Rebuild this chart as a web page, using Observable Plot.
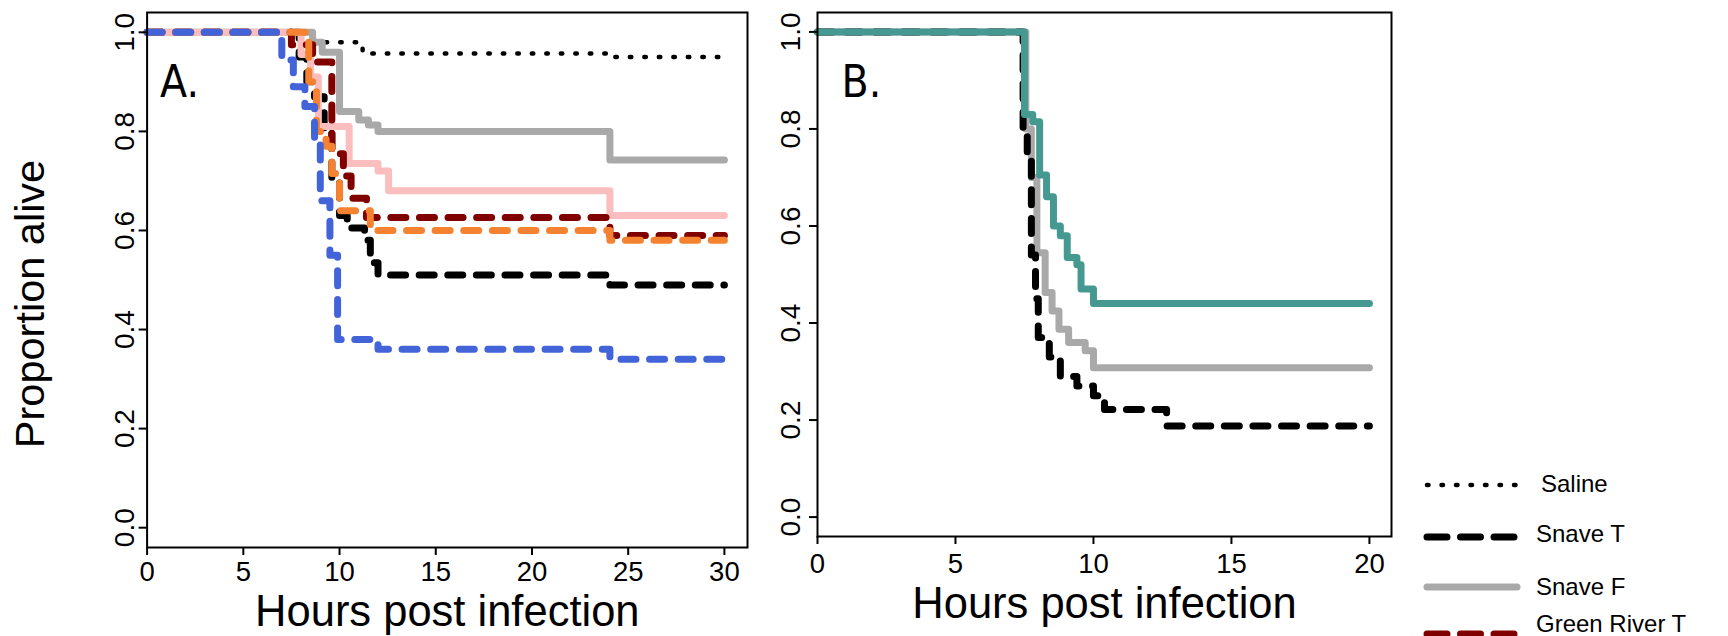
<!DOCTYPE html>
<html><head><meta charset="utf-8">
<script src="https://cdn.jsdelivr.net/npm/d3@7"></script>
<script src="https://cdn.jsdelivr.net/npm/@observablehq/plot@0.6"></script>
<style>
html,body{margin:0;padding:0;background:#fff;width:1728px;height:636px;overflow:hidden;}
#wrap{position:relative;width:1728px;height:636px;font-family:"Liberation Sans",Arial,sans-serif;}
#a{position:absolute;left:0;top:0;}
#b{position:absolute;left:760px;top:0;}
#legend{position:absolute;left:0;top:0;pointer-events:none;}
</style></head>
<body><div id="wrap"><div id="a"></div><div id="b"></div><svg id="legend" width="1728" height="636"></svg></div>
<script>
// ---------- Data ----------
const xTicksA = [0, 5, 10, 15, 20, 25, 30];
const xTicksB = [0, 5, 10, 15, 20];
const yTicks = [0, 0.2, 0.4, 0.6, 0.8, 1.0];

// Panel A
const salineA_t = [0, 8.5, 11.2, 24.05, 30];
const salineA_p = [1, 0.98, 0.957, 0.95, 0.95];
const snaveTA_t = [0, 7.9, 8.3, 8.7, 9.2, 9.6, 10.0, 10.4, 11.3, 11.6, 12.0, 24.05, 30];
const snaveTA_p = [1, 0.95, 0.90, 0.87, 0.80, 0.70, 0.63, 0.605, 0.58, 0.535, 0.51, 0.49, 0.49];
const snaveFA_t = [0, 8.6, 9.1, 10.0, 11.0, 11.5, 12.0, 24.05, 30];
const snaveFA_p = [1, 0.98, 0.96, 0.84, 0.823, 0.813, 0.80, 0.742, 0.742];
const pinkA_t = [0, 8.0, 8.5, 8.9, 10.5, 12.0, 12.55, 24.05, 30];
const pinkA_p = [1, 0.955, 0.91, 0.81, 0.735, 0.72, 0.68, 0.63, 0.63];
const greenRiverTA_t = [0, 7.5, 8.6, 9.6, 10.2, 10.6, 11.4, 24.05, 30];
const greenRiverTA_p = [1, 0.975, 0.94, 0.755, 0.71, 0.665, 0.626, 0.59, 0.59];
const orangeA_t = [0, 8.4, 8.8, 9.3, 9.6, 10.0, 11.6, 24.05, 30];
const orangeA_p = [1, 0.90, 0.80, 0.77, 0.715, 0.64, 0.60, 0.58, 0.58];
const blueA_t = [0, 7.0, 7.6, 8.2, 8.7, 9.0, 9.5, 9.9, 12.0, 24.05, 30];
const blueA_p = [1, 0.944, 0.89, 0.85, 0.78, 0.66, 0.55, 0.38, 0.36, 0.34, 0.34];

// Panel B
const snaveFB_t = [0, 7.55, 7.75, 7.95, 8.25, 8.5, 8.75, 9.1, 9.7, 10.0, 20];
const snaveFB_p = [1, 0.80, 0.70, 0.545, 0.463, 0.425, 0.387, 0.36, 0.343, 0.308, 0.308];
const snaveTB_t = [0, 7.45, 7.6, 7.75, 7.9, 8.0, 8.4, 8.8, 9.4, 10.0, 10.4, 12.65, 20];
const snaveTB_p = [1, 0.80, 0.74, 0.54, 0.45, 0.37, 0.33, 0.29, 0.27, 0.25, 0.222, 0.188, 0.188];
const tealB_t = [0, 7.5, 7.8, 8.05, 8.3, 8.55, 8.8, 9.05, 9.4, 9.55, 10.0, 20];
const tealB_p = [1, 0.83, 0.815, 0.705, 0.66, 0.60, 0.58, 0.535, 0.52, 0.47, 0.44, 0.44];

const legendNames = ["Saline", "Snave T", "Snave F", "Green River T"];

// ---------- Styles ----------
const DOT = {stroke: "black", strokeWidth: 4.5, dash: "1.5,13"};
const BLACKDASH = {stroke: "black", strokeWidth: 7, dash: "15,13.6"};
const GRAY = {stroke: "#a9a9a9", strokeWidth: 7, dash: null};
const PINK = {stroke: "#fabebe", strokeWidth: 7, dash: null};
const MAROON = {stroke: "#800000", strokeWidth: 7, dash: "15,13.6"};
const ORANGE = {stroke: "#f58231", strokeWidth: 7, dash: "15,13.6"};
const BLUE = {stroke: "#4363d8", strokeWidth: 7, dash: "15,13.6"};
const TEAL = {stroke: "#469990", strokeWidth: 7, dash: null};

const seriesA = [
  [salineA_t, salineA_p, DOT],
  [snaveTA_t, snaveTA_p, BLACKDASH],
  [snaveFA_t, snaveFA_p, GRAY],
  [pinkA_t, pinkA_p, PINK],
  [greenRiverTA_t, greenRiverTA_p, MAROON],
  [orangeA_t, orangeA_p, ORANGE],
  [blueA_t, blueA_p, BLUE]
];
const seriesB = [
  [snaveFB_t, snaveFB_p, GRAY],
  [snaveTB_t, snaveTB_p, BLACKDASH],
  [tealB_t, tealB_p, TEAL]
];
const legendStyles = [DOT, BLACKDASH, GRAY, MAROON];

const FONT = "'Liberation Sans', Arial, Helvetica, sans-serif";
const NARROW = "'Liberation Sans Narrow', 'DejaVu Sans Condensed', 'Liberation Sans', sans-serif";

function panel(cfg) {
  const marks = [];
  for (const [t, p, st] of cfg.series) {
    const data = t.map((v, i) => ({t: v, p: p[i]}));
    marks.push(Plot.line(data, {
      x: "t", y: "p", curve: "step-after",
      stroke: st.stroke, strokeWidth: st.strokeWidth,
      strokeDasharray: st.dash || undefined,
      strokeLinecap: "round", strokeLinejoin: "round"
    }));
  }
  marks.push(Plot.frame({stroke: "black", strokeWidth: 2}));
  marks.push(Plot.axisY({ticks: yTicks, tickSize: 8, tickFormat: () => "", label: null, strokeWidth: 2}));
  marks.push(Plot.text(yTicks, {y: d => d, text: d => d3.format(".1f")(d), frameAnchor: "left",
    dx: cfg.yTickDx, rotate: -90, textAnchor: "middle", lineAnchor: "middle", fontSize: 28}));
  marks.push(Plot.axisX({ticks: cfg.xTicks, tickSize: 8, tickPadding: cfg.tickPad, fontSize: 27.5, label: null, strokeWidth: 2}));
  marks.push(Plot.text(["Hours post infection"], {frameAnchor: "bottom", dy: cfg.titleDy, fontSize: cfg.titleSize,
    textAnchor: "middle", lineAnchor: "middle"}));
  if (cfg.yLabel) {
    marks.push(Plot.text([cfg.yLabel], {frameAnchor: "left", dx: cfg.yLabelDx, dy: 24, rotate: -90, fontSize: 41.5,
      textAnchor: "middle", lineAnchor: "middle"}));
  }
  marks.push(Plot.text([cfg.letter], {frameAnchor: "top-left", dx: cfg.letterDx, dy: 70, textAnchor: "start",
    lineAnchor: "middle", fontSize: 44, fontFamily: NARROW}));
  return Plot.plot({
    width: cfg.width, height: 636,
    marginLeft: cfg.marginLeft, marginRight: cfg.marginRight, marginTop: 12, marginBottom: cfg.marginBottom,
    x: {domain: cfg.xDomain},
    y: {domain: [-0.04, 1.04]},
    style: {fontFamily: FONT, background: "white", overflow: "visible", color: "black"},
    marks
  });
}

document.getElementById("a").appendChild(panel({
  series: seriesA, xDomain: [0, 31.2], xTicks: xTicksA, width: 760,
  marginLeft: 146.6, marginRight: 13, marginBottom: 89,
  yTickDx: -22, titleDy: 65, titleSize: 43.5, tickPad: 6, yLabel: "Proportion alive", yLabelDx: -116.6,
  letter: "A.", letterDx: 13
}));
document.getElementById("b").appendChild(panel({
  series: seriesB, xDomain: [0, 20.8], xTicks: xTicksB, width: 650,
  marginLeft: 57, marginRight: 19, marginBottom: 100,
  yTickDx: -26, titleDy: 68, titleSize: 43.5, tickPad: 9, yLabel: null,
  letter: "B.", letterDx: 24
}));

// ---------- Legend ----------
const lg = d3.select("#legend");
const rowY = [485, 537, 587, 634];
const txtY = [484, 534, 587, 624];
legendNames.forEach((name, i) => {
  const st = legendStyles[i];
  lg.append("line").attr("x1", 1427).attr("x2", 1517).attr("y1", rowY[i]).attr("y2", rowY[i])
    .attr("stroke", st.stroke).attr("stroke-width", st.strokeWidth)
    .attr("stroke-dasharray", st.dash === "15,13.6" ? "20,13.5" : st.dash)
    .attr("stroke-linecap", "round");
  lg.append("text").attr("x", i === 0 ? 1541 : 1536).attr("y", txtY[i]).attr("dy", "0.35em")
    .attr("font-family", FONT).attr("font-size", 24).attr("fill", "black").text(name);
});
</script>
</body></html>
